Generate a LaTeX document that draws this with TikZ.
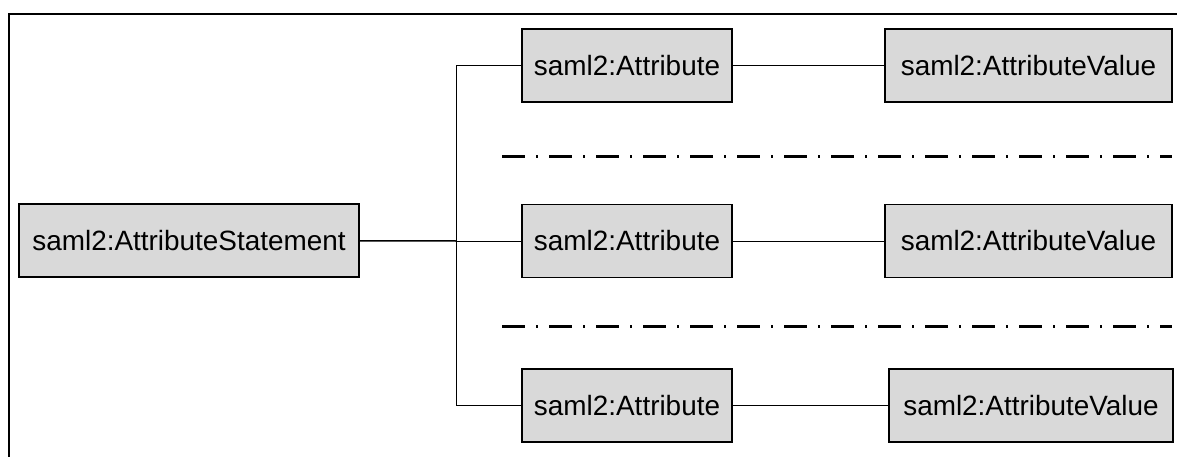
\documentclass[tikz,border=0pt]{standalone}
\usepackage{fontspec}
\setmainfont{Liberation Sans}
\definecolor{boxgray}{RGB}{217,217,217}

\begin{document}
\begin{tikzpicture}[x=1pt,y=-1pt,
  elem/.style={rectangle,draw,line width=1.3pt,fill=boxgray,minimum height=73pt,
    inner sep=0pt,font=\fontsize{27.9}{32}\selectfont},
  link/.style={line width=0.9pt},
  sepline/.style={line width=3pt,dash pattern=on 23pt off 11pt on 2pt off 11pt}]
\useasboundingbox (0,0) rectangle (1177,457);
\draw[line width=1.5pt] (9,457) -- (9,14) -- (1177,14);

\path (189,240.5) node[elem,minimum width=340pt] (stmt) {saml2:AttributeStatement};

\path (627,65.5) node[elem,minimum width=210pt] (attrA) {saml2:Attribute};
\path (1028.5,65.5) node[elem,minimum width=287pt] (valA) {saml2:AttributeValue};

\path (627,241) node[elem,minimum width=210pt] (attrB) {saml2:Attribute};
\path (1028.5,241) node[elem,minimum width=287pt] (valB) {saml2:AttributeValue};

\path (627,405.5) node[elem,minimum width=210pt] (attrC) {saml2:Attribute};
\path (1031,405.5) node[elem,minimum width=284pt] (valC) {saml2:AttributeValue};

\coordinate (trunkA) at (456,65.5);
\coordinate (trunkB) at (456,241);
\coordinate (trunkC) at (456,405.5);

\draw[line width=1.5pt] (stmt) -- (trunkB);
\draw[link] (trunkB) -- (attrB);
\draw[link] (attrA) -- (trunkA) -- (trunkC) -- (attrC);
\draw[link] (attrA) -- (valA);
\draw[link] (attrB) -- (valB);
\draw[link] (attrC) -- (valC);

% separators
\draw[sepline] (502,157) -- (1172,157);
\draw[sepline] (502,326) -- (1172,326);
\end{tikzpicture}
\end{document}
